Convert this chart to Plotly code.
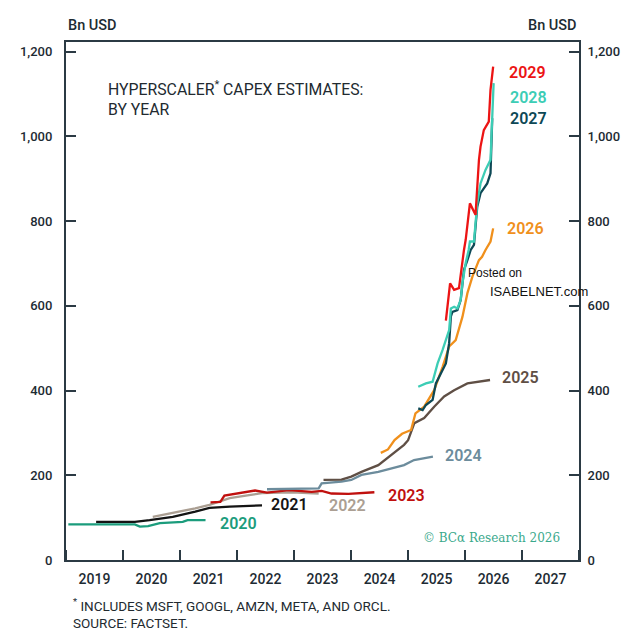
import plotly.graph_objects as go

# date of estimate -> consensus capex estimate for that fiscal year (Bn USD)
d2020 = ["2019-01-16", "2019-08-01", "2020-03-17", "2020-04-18", "2020-06-10",
         "2020-08-24", "2020-11-15", "2021-01-18", "2021-02-18", "2021-06-13"]
v2020 = [84, 84, 84, 79, 80, 87, 88, 90, 94, 94]

d2021 = ["2019-07-13", "2020-03-17", "2020-06-20", "2020-11-15", "2021-04-08",
         "2021-07-08", "2021-11-15", "2022-06-10"]
v2021 = [90, 90, 94, 102, 114, 123, 126, 129]

d2022 = ["2020-07-10", "2020-11-15", "2021-04-08", "2021-07-08", "2021-11-15",
         "2022-03-19", "2022-06-10", "2022-12-18", "2023-06-08"]
v2022 = [102, 111, 122, 130, 146, 153, 158, 160, 157]

d2023 = ["2021-07-15", "2021-09-16", "2021-10-12", "2021-12-20", "2022-04-26",
         "2022-07-12", "2022-11-29", "2023-04-24", "2023-06-27", "2023-08-29",
         "2023-12-16", "2024-05-30"]
v2023 = [136, 137, 152, 156, 164, 159, 165, 161, 163, 157, 156, 160]

d2024 = ["2022-07-12", "2023-06-08", "2023-06-27", "2023-11-01", "2024-01-03",
         "2024-03-08", "2024-06-24", "2024-09-15", "2024-12-06", "2025-02-08",
         "2025-06-09"]
v2024 = [167, 169, 181, 185, 189, 201, 208, 216, 224, 236, 244]

d2025 = ["2023-07-09", "2023-11-01", "2024-01-03", "2024-03-08", "2024-06-24",
         "2024-09-15", "2024-12-06", "2025-01-01", "2025-02-10", "2025-04-14",
         "2025-06-17", "2025-08-20", "2025-10-23", "2026-01-16", "2026-03-20",
         "2026-06-10"]
v2025 = [189, 190, 197, 208, 224, 248, 272, 283, 323, 335, 362, 386, 401, 417,
         421, 425]

d2026 = ["2024-07-10", "2024-08-25", "2024-10-06", "2024-11-23", "2025-01-20",
         "2025-02-17", "2025-04-14", "2025-06-17", "2025-08-10", "2025-09-21",
         "2025-11-02", "2025-12-15", "2026-01-16", "2026-02-17", "2026-03-31",
         "2026-04-20", "2026-05-12", "2026-06-13", "2026-06-30"]
v2026 = [253, 261, 283, 298, 307, 346, 362, 401, 456, 504, 519, 574, 630, 669,
         708, 716, 732, 752, 783]

d2027 = ["2025-03-07", "2025-04-04", "2025-04-25", "2025-06-07", "2025-06-28",
         "2025-07-30", "2025-08-31", "2025-09-21", "2025-10-02", "2025-10-12",
         "2025-11-13", "2025-12-04", "2025-12-25", "2026-01-16", "2026-02-06",
         "2026-02-27", "2026-03-20", "2026-04-10", "2026-05-23", "2026-06-13",
         "2026-06-24"]
v2027 = [358, 354, 366, 378, 417, 441, 464, 512, 575, 586, 590, 614, 685, 708,
         732, 744, 834, 866, 889, 913, 1043]

d2028 = ["2025-03-07", "2025-04-25", "2025-06-07", "2025-07-09", "2025-08-10",
         "2025-08-31", "2025-09-21", "2025-10-02", "2025-10-23", "2025-11-13",
         "2025-12-04", "2025-12-15", "2026-01-05", "2026-01-24", "2026-02-01",
         "2026-02-27", "2026-03-20", "2026-04-10", "2026-05-12", "2026-06-13",
         "2026-06-24", "2026-07-03"]
v2028 = [409, 417, 421, 464, 496, 519, 543, 594, 598, 594, 614, 653, 701, 732,
         752, 752, 842, 889, 921, 945, 1039, 1126]

d2029 = ["2025-08-31", "2025-09-27", "2025-10-23", "2025-11-23", "2025-12-25",
         "2026-01-05", "2026-02-01", "2026-02-17", "2026-03-09", "2026-03-31",
         "2026-04-10", "2026-05-01", "2026-06-02", "2026-06-13", "2026-06-30"]
v2029 = [565, 653, 638, 642, 732, 756, 842, 830, 815, 945, 976, 1015, 1035,
         1110, 1165]

years = ["2020", "2021", "2022", "2023", "2024", "2025", "2026", "2027", "2028", "2029"]
dates = [d2020, d2021, d2022, d2023, d2024, d2025, d2026, d2027, d2028, d2029]
values = [v2020, v2021, v2022, v2023, v2024, v2025, v2026, v2027, v2028, v2029]

colors = {"2020": "#1b9c7c", "2021": "#141414", "2022": "#ab9f93",
          "2023": "#c0100e", "2024": "#6c8c9c", "2025": "#5f4f45",
          "2026": "#f0901c", "2027": "#0d4855", "2028": "#3ccdb5",
          "2029": "#ec1414"}

# label offset from the last point of each line (px right, px up)
label_shift = {"2020": (12, -3), "2021": (7, 1), "2022": (8, -12),
               "2023": (12, -3), "2024": (10, 1), "2025": (10, 2),
               "2026": (12, 0), "2027": (16, 0), "2028": (14, -14),
               "2029": (14, -6)}

axis_col = "#2b3a44"
text_col = "#1d2b33"
font = "Roboto"

fig = go.Figure()
for yr, d, v in zip(years, dates, values):
    fig.add_trace(go.Scatter(x=d, y=v, mode="lines", name=yr,
                             line=dict(color=colors[yr], width=2.3)))
    dx, dy = label_shift[yr]
    fig.add_annotation(x=d[-1], y=v[-1], text=yr, showarrow=False,
                       xanchor="left", yanchor="middle", xshift=dx, yshift=dy,
                       font=dict(family=font, size=16, color=colors[yr], weight=600))

# dummy trace so the right-hand axis is drawn
fig.add_trace(go.Scatter(x=[None], y=[None], yaxis="y2", showlegend=False,
                         hoverinfo="skip"))

ymax = 1223
yticks = [0, 200, 400, 600, 800, 1000, 1200]

fig.update_layout(
    width=640, height=640,
    margin=dict(l=54, r=69, t=34, b=88),
    plot_bgcolor="white", paper_bgcolor="white",
    showlegend=False,
    font=dict(family=font, color=text_col),
    xaxis=dict(type="date", range=["2019-01-01", "2028-01-01"],
               tick0="2019-01-01", dtick="M12", tickformat="%Y",
               ticklabelmode="period", ticks="inside", ticklen=10,
               tickwidth=2, tickcolor=axis_col, showgrid=False,
               showline=True, linecolor=axis_col, linewidth=2, mirror=True,
               ticklabelstandoff=5,
               tickfont=dict(size=14, color=text_col, weight=500)),
    yaxis=dict(range=[0, ymax], tickvals=yticks, tickformat=",",
               ticks="inside", ticklen=10, tickwidth=2, tickcolor=axis_col,
               showgrid=False, zeroline=False, showline=True,
               linecolor=axis_col, linewidth=2, mirror=True,
               ticklabelstandoff=9,
               tickfont=dict(size=13, color=text_col, weight=500)),
    yaxis2=dict(range=[0, ymax], tickvals=yticks, tickformat=",",
                overlaying="y", side="right", ticks="inside", ticklen=10,
                tickwidth=2, tickcolor=axis_col, showgrid=False,
                zeroline=False, showline=True, linecolor=axis_col,
                linewidth=2, ticklabelstandoff=4,
                tickfont=dict(size=13, color=text_col, weight=500)),
)

fig.add_annotation(x=0, y=1.0, xref="paper", yref="paper", yshift=6,
                   text="Bn USD", showarrow=False, xanchor="left", yanchor="bottom",
                   font=dict(size=14.5, color=text_col, weight=500))
fig.add_annotation(x=1, y=1.0, xref="paper", yref="paper", yshift=6,
                   text="Bn USD", showarrow=False, xanchor="right", yanchor="bottom",
                   font=dict(size=14.5, color=text_col, weight=500))

fig.add_annotation(x=0.077, y=0.935, xref="paper", yref="paper",
                   text="HYPERSCALER<sup>*</sup> CAPEX ESTIMATES:<br>BY YEAR",
                   showarrow=False, xanchor="left", yanchor="top", align="left",
                   font=dict(size=15.8, color="#222a30"))

fig.add_annotation(x=0.967, y=0.042, xref="paper", yref="paper",
                   text="© BCα Research 2026", showarrow=False,
                   xanchor="right", yanchor="middle",
                   font=dict(family="DejaVu Serif", size=12, color="#3aa98c"))

fig.add_annotation(x=0.78, y=0.555, xref="paper", yref="paper",
                   text="Posted on", showarrow=False, xanchor="left",
                   yanchor="middle",
                   font=dict(family="Liberation Sans", size=12, color="#111111"))
fig.add_annotation(x=0.822, y=0.518, xref="paper", yref="paper",
                   text="ISABELNET.com", showarrow=False, xanchor="left",
                   yanchor="middle",
                   font=dict(family="Liberation Sans", size=13, color="#111111"))

fig.add_annotation(x=0.01, y=-0.065, xref="paper", yref="paper",
                   text="<sup>*</sup> INCLUDES MSFT, GOOGL, AMZN, META, AND ORCL.<br>SOURCE: FACTSET.",
                   showarrow=False, xanchor="left", yanchor="top", align="left",
                   font=dict(size=13.5, color="#222a30"))

fig.write_html("out.html")
